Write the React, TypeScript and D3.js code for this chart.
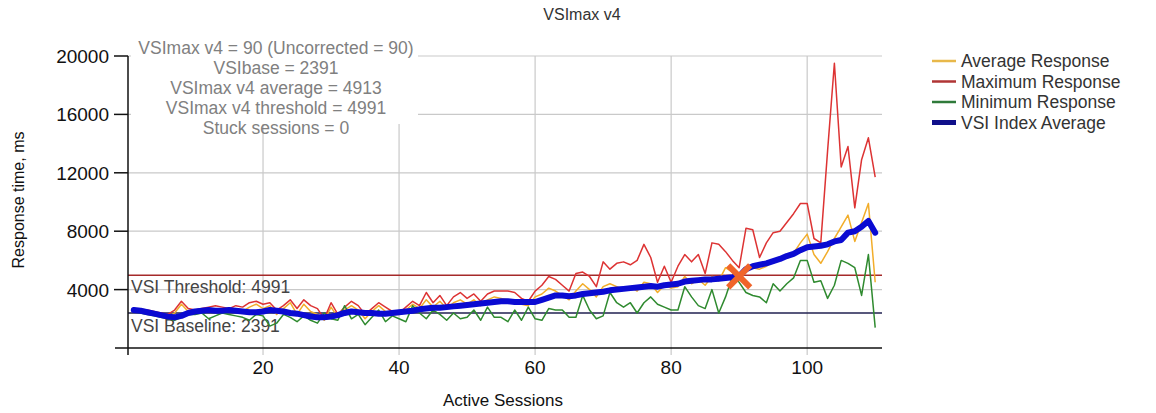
import React from 'react';
import * as d3 from 'd3';

const sessions = d3.range(1, 111);

const averageResponse = [
  2600, 2500, 2400, 2300, 2200, 2100, 2400, 3000, 2500, 2500,
  2600, 2700, 2600, 2600, 2500, 2700, 2500, 2800, 3000, 2700,
  2900, 2300, 2700, 3100, 2300, 3000, 2500, 2300, 1900, 2800,
  2100, 2600, 2900, 2600, 2000, 2500, 2900, 2500, 2300, 2300,
  2600, 3000, 2700, 3300, 2800, 3200, 2700, 3100, 3300, 3000,
  3300, 2900, 3300, 3500, 3400, 3300, 3300, 3000, 2900, 3500,
  3700, 4100, 3900, 3600, 3300, 3900, 4400, 4000, 3500, 4200,
  4400, 4200, 4000, 4200, 3900, 4500, 4400, 3800, 4300, 4100,
  4200, 4900, 4400, 4700, 4300, 4900, 4600, 5500, 5200, 4800,
  5500, 5500, 5400, 5600, 5900, 6000, 6200, 6500, 7200, 7800,
  6400, 5800, 6600, 7500, 8300, 9100, 7300, 8600, 9900, 4500,
];

const maximumResponse = [
  2700, 2650, 2600, 2500, 2400, 2300, 2600, 3200, 2700, 2600,
  2700, 2800, 2900, 2800, 2700, 2900, 2800, 3100, 3200, 3000,
  3100, 2600, 2900, 3300, 2700, 3300, 2900, 2700, 2000, 3100,
  2300, 2800, 3200, 2900, 2300, 2700, 3100, 2800, 2500, 2400,
  2800, 3200, 2900, 3800, 3100, 3600, 2900, 3500, 3800, 3400,
  3700, 3200, 3700, 3900, 3900, 3900, 3800, 3400, 3200, 3900,
  4300, 4900, 4700, 4300, 3900, 5100, 5200, 4900, 4200, 5900,
  5400, 5800, 5900, 5700, 6000, 7100, 6200, 4500, 5600, 4500,
  5600, 6400, 5900, 6400, 5100, 7200, 7100, 6600, 6000, 5500,
  8200, 8100, 6200, 7200, 7900, 8000, 8600, 9200, 9900, 9900,
  7500, 7200, 13500, 19500, 12400, 13800, 9600, 12900, 14400, 11700,
];

const minimumResponse = [
  2500, 2400, 2300, 2200, 2100, 2000, 1900, 2100, 2300, 2300,
  2400, 2000, 2200, 2400, 2300, 2200, 2100, 1900, 2300, 2200,
  1500, 1700, 2300, 2100, 1800, 2200, 1900, 1700, 2400, 2000,
  1900, 2900, 2000, 2300, 1600, 2100, 2600, 1800, 2200, 2000,
  1800, 2900, 2400, 2000, 2600, 2300, 1900, 2400, 2000, 2100,
  2600, 1900, 2800, 2100, 2100, 1800, 2600, 1900, 2800, 2000,
  1900, 2700, 2600, 2600, 2100, 2100, 3600, 2600, 2000, 2200,
  3800, 3100, 2800, 3100, 2400, 3100, 3500, 3000, 2800, 2600,
  2600, 4200, 3500, 2900, 2700, 4000, 2400, 3500, 4900, 4500,
  3800, 3600, 3500, 3100, 4400, 3900, 4400, 4800, 6000, 6000,
  4500, 4600, 3400, 4300, 6000, 5800, 5500, 3600, 6400, 1400,
];

const vsiIndexAverage = [
  2600, 2550, 2450, 2350, 2250, 2150, 2100, 2200, 2400, 2500,
  2550, 2600, 2550, 2550, 2600, 2550, 2500, 2450, 2450, 2500,
  2600, 2550, 2500, 2400, 2350, 2250, 2150, 2100, 2100, 2150,
  2250, 2400, 2500, 2450, 2400, 2400, 2350, 2350, 2400, 2450,
  2500, 2550, 2650, 2700, 2750, 2750, 2800, 2850, 2900, 2950,
  3000, 3050, 3100, 3150, 3200, 3200, 3150, 3150, 3150, 3150,
  3300, 3450, 3600, 3600, 3550, 3600, 3700, 3750, 3800, 3850,
  3950, 4000, 4050, 4100, 4150, 4200, 4250, 4200, 4300, 4350,
  4400, 4550, 4600, 4650, 4700, 4700, 4750, 4800, 4850, 4913,
  5400, 5600, 5700, 5800, 5950, 6100, 6300, 6450, 6700, 6900,
  6950, 7000, 7100, 7300, 7400, 7900, 8000, 8300, 8700, 7900,
];

const yTicks = [4000, 8000, 12000, 16000, 20000];
const xTicks = [20, 40, 60, 80, 100];

const infoLines = [
  'VSImax v4 = 90 (Uncorrected = 90)',
  'VSIbase = 2391',
  'VSImax v4 average = 4913',
  'VSImax v4 threshold = 4991',
  'Stuck sessions = 0',
];

const vsiThreshold = 4991;
const vsiBaseline = 2391;
const vsiMaxSession = 90;
const vsiMaxValue = 4913;

const legendNames = ['Average Response', 'Maximum Response', 'Minimum Response', 'VSI Index Average'];
const seriesColors = ['#f2ad2a', '#dd3333', '#2f8a2f', '#0a0ad2'];
const legendColors = ['#e8b84a', '#b03535', '#2f7a3a', '#10108a'];

const W = 1156;
const H = 413;
const FONT = '"Liberation Sans", Arial, sans-serif';

export default function App() {
  const x = d3.scaleLinear().domain([0, 111]).range([127, 882]);
  const y = d3.scaleLinear().domain([0, 20000]).range([348, 56]);

  const line = d3
    .line<number>()
    .x((_, i) => x(sessions[i]))
    .y((d) => y(d));

  const series = [averageResponse, maximumResponse, minimumResponse];

  const mx = x(vsiMaxSession);
  const my = y(vsiMaxValue);
  const xs = 11;

  return (
    <div style={{ position: 'absolute', left: 0, top: 0, width: W, height: H, background: '#fff' }}>
      <svg width={W} height={H} style={{ display: 'block', fontFamily: FONT }}>
        <rect x={0} y={0} width={W} height={H} fill="#fff" />
        <text x={582} y={20} textAnchor="middle" fontSize={16} fill="#333">VSImax v4</text>

        {/* grid */}
        {yTicks.map((t) => (
          <line key={'gy' + t} x1={128} x2={882} y1={y(t)} y2={y(t)} stroke="#c9c9c9" strokeWidth={1.2} />
        ))}
        {xTicks.map((t) => (
          <line key={'gx' + t} x1={x(t)} x2={x(t)} y1={y(20000)} y2={355} stroke="#c9c9c9" strokeWidth={1.2} />
        ))}

        {/* info box */}
        <rect x={131} y={38} width={287} height={86} fill="#fff" />
        {infoLines.map((s, i) => (
          <text key={s} x={276} y={54 + i * 20} textAnchor="middle" fontSize={17.5} fill="#808080">{s}</text>
        ))}

        {/* threshold & baseline */}
        <line x1={128} x2={882} y1={y(vsiThreshold)} y2={y(vsiThreshold)} stroke="#a52a2a" strokeWidth={1.5} />
        <line x1={128} x2={882} y1={y(vsiBaseline)} y2={y(vsiBaseline)} stroke="#202050" strokeWidth={1.5} />
        <text x={131} y={y(vsiThreshold) + 18} fontSize={17.5} fill="#444">VSI Threshold: {vsiThreshold}</text>
        <text x={131} y={y(vsiBaseline) + 19} fontSize={17.5} fill="#444">VSI Baseline: {vsiBaseline}</text>

        {/* series */}
        {series.map((d, i) => (
          <path key={'s' + i} d={line(d) || ''} fill="none" stroke={seriesColors[i]} strokeWidth={1.5} strokeLinejoin="round" />
        ))}
        <path d={line(vsiIndexAverage) || ''} fill="none" stroke={seriesColors[3]} strokeWidth={6} strokeLinejoin="round" strokeLinecap="round" />

        {/* VSImax marker */}
        <g stroke="#f0642a" strokeWidth={6} strokeLinecap="butt">
          <line x1={mx - xs} y1={my - xs} x2={mx + xs} y2={my + xs} />
          <line x1={mx - xs} y1={my + xs} x2={mx + xs} y2={my - xs} />
        </g>

        {/* axes */}
        <line x1={128} x2={128} y1={y(20000)} y2={355} stroke="#111" strokeWidth={1.5} />
        <line x1={115} x2={882} y1={y(0)} y2={y(0)} stroke="#111" strokeWidth={1.5} />
        {yTicks.map((t) => (
          <g key={'yt' + t}>
            <line x1={114} x2={128} y1={y(t)} y2={y(t)} stroke="#111" strokeWidth={1.5} />
            <text x={109} y={y(t) + 7} textAnchor="end" fontSize={19} fill="#111">{t}</text>
          </g>
        ))}
        {xTicks.map((t) => (
          <text key={'xt' + t} x={x(t)} y={374} textAnchor="middle" fontSize={19} fill="#111">{t}</text>
        ))}

        <text x={503} y={406} textAnchor="middle" fontSize={17} fill="#111">Active Sessions</text>
        <text transform="translate(24,200) rotate(-90)" textAnchor="middle" fontSize={16} fill="#111">Response time, ms</text>

        {/* legend */}
        {legendNames.map((n, i) => (
          <g key={n} transform={`translate(932, ${61 + i * 20.5})`}>
            <line x1={0} x2={24} y1={0} y2={0} stroke={legendColors[i]} strokeWidth={i === 3 ? 5 : 2.5} />
            <text x={29} y={6} fontSize={17.5} fill="#333">{n}</text>
          </g>
        ))}
      </svg>
    </div>
  );
}
